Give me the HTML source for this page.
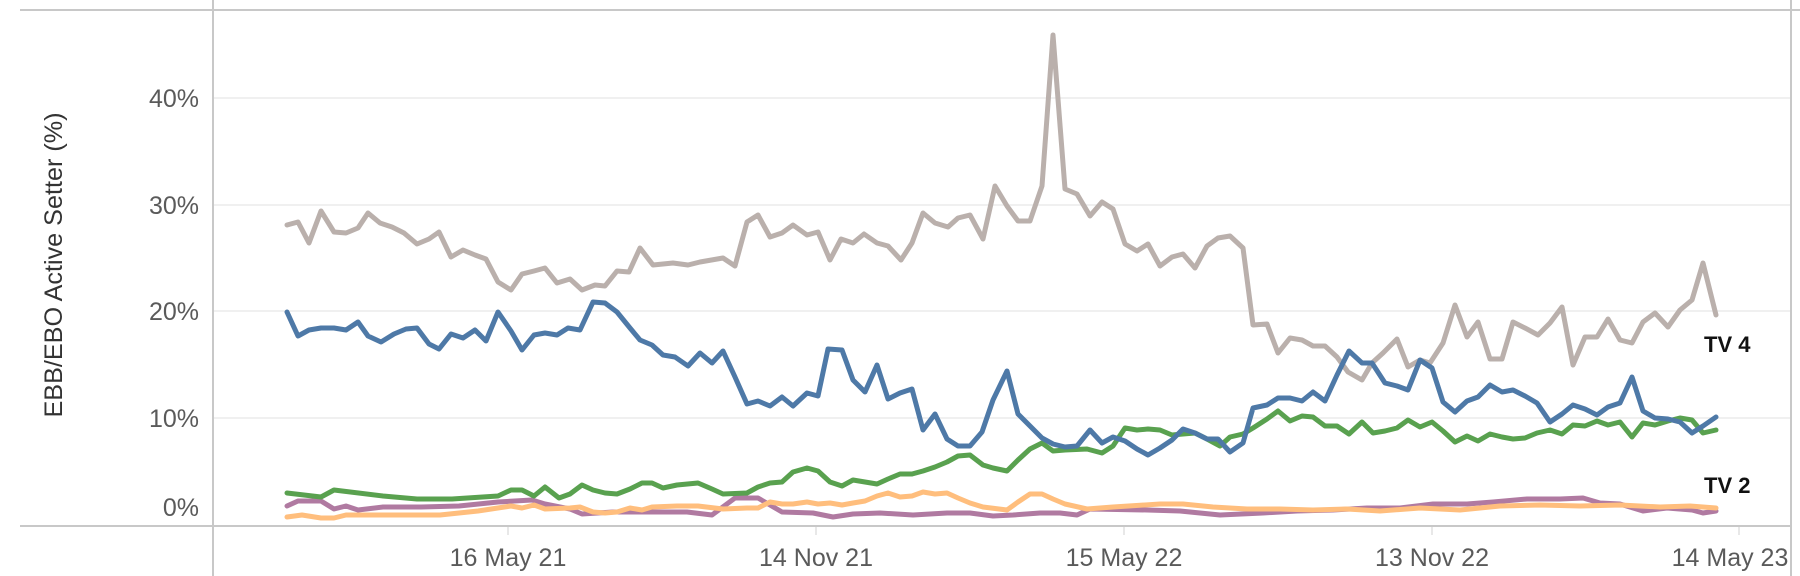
<!DOCTYPE html>
<html><head><meta charset="utf-8"><style>
html,body{margin:0;padding:0;background:#fff;width:1800px;height:576px;overflow:hidden}
svg{display:block}
text{font-family:"Liberation Sans",sans-serif}
</style></head><body>
<svg width="1800" height="576" viewBox="0 0 1800 576" xmlns="http://www.w3.org/2000/svg">
<g stroke="#ececec" stroke-width="1.5">
<line x1="213" y1="98" x2="1791" y2="98"/>
<line x1="213" y1="205" x2="1791" y2="205"/>
<line x1="213" y1="311" x2="1791" y2="311"/>
<line x1="213" y1="418" x2="1791" y2="418"/>
</g>
<g stroke="#c8c8c8" stroke-width="2">
<line x1="20" y1="10" x2="1800" y2="10"/>
<line x1="20" y1="526" x2="1791" y2="526"/>
<line x1="213" y1="0" x2="213" y2="576"/>
<line x1="1791" y1="0" x2="1791" y2="576"/>
</g>
<g stroke="#e0e0e0" stroke-width="1.5">
<line x1="508" y1="527" x2="508" y2="535"/>
<line x1="816" y1="527" x2="816" y2="535"/>
<line x1="1124" y1="527" x2="1124" y2="535"/>
<line x1="1432" y1="527" x2="1432" y2="535"/>
<line x1="1739" y1="527" x2="1739" y2="535"/>
</g>
<g fill="#5a5a5a" font-size="25" text-anchor="end">
<text x="199" y="107">40%</text>
<text x="199" y="214">30%</text>
<text x="199" y="320">20%</text>
<text x="199" y="427">10%</text>
<text x="199" y="516">0%</text>
</g>
<g fill="#5a5a5a" font-size="25" text-anchor="middle">
<text x="508" y="566">16 May 21</text>
<text x="816" y="566">14 Nov 21</text>
<text x="1124" y="566">15 May 22</text>
<text x="1432" y="566">13 Nov 22</text>
<text x="1730" y="566">14 May 23</text>
</g>
<text transform="translate(62,265) rotate(-90)" fill="#333" font-size="25" text-anchor="middle" textLength="305" lengthAdjust="spacingAndGlyphs">EBB/EBO Active Setter (%)</text>
<g fill="none" stroke-width="5" stroke-linejoin="round" stroke-linecap="round">
<polyline stroke="#b07aa1" points="287,506 298,501 321,501 334,509 346,506 358,510 383,507 421,507 459,506 498,502 532,500 545,504 570,509 582,514 613,512 647,512 687,512 712,515 735,498 758,498 770,505 782,512 813,513 833,517 853,514 880,513 913,515 947,513 970,513 993,516 1013,515 1040,513 1060,513 1077,515 1090,509 1147,510 1180,511 1220,515 1263,513 1297,511 1333,510 1367,508 1400,508 1433,504 1467,504 1493,502 1527,499 1560,499 1583,498 1600,503 1620,504 1643,511 1667,508 1692,510 1703,513 1716,511"/>
<polyline stroke="#ffbe7d" points="287,517 302,515 321,518 334,518 346,515 383,515 440,515 478,511 511,506 522,508 534,505 545,509 570,508 580,507 593,512 605,513 617,512 630,508 642,510 652,507 677,506 698,506 723,509 747,508 758,508 770,502 782,504 793,504 807,502 818,504 830,503 842,505 853,503 865,501 877,496 888,493 900,497 912,496 923,492 935,494 947,493 958,498 970,503 983,507 1007,510 1018,502 1030,494 1042,494 1053,499 1065,504 1087,509 1113,507 1160,504 1183,504 1213,507 1247,509 1280,509 1313,510 1347,509 1380,511 1420,508 1460,510 1500,506 1540,505 1580,506 1620,505 1660,507 1690,506 1716,508"/>
<polyline stroke="#bab0ac" points="287,225 298,222 309,243 321,211 334,232 346,233 358,228 368,213 380,223 392,227 404,233 417,244 429,239 439,232 451,257 463,250 475,255 486,259 498,282 511,290 522,274 534,271 545,268 557,283 570,279 582,290 595,285 605,286 617,271 629,272 640,248 653,265 673,263 688,265 700,262 723,258 735,266 747,222 758,215 770,237 782,233 793,225 807,235 818,232 830,260 841,239 853,243 864,234 877,243 888,246 901,260 912,243 923,213 935,223 948,227 958,218 970,215 983,239 995,186 1007,206 1018,221 1030,221 1042,186 1053,35 1065,189 1077,194 1090,216 1102,202 1113,209 1125,244 1137,251 1148,244 1160,266 1172,257 1183,254 1195,268 1207,246 1218,238 1230,236 1243,248 1253,325 1267,324 1278,353 1290,338 1302,340 1313,346 1325,346 1337,357 1348,372 1362,380 1372,363 1383,353 1397,339 1408,367 1420,360 1430,363 1443,343 1455,305 1467,337 1478,322 1490,359 1502,359 1513,322 1525,328 1538,335 1550,323 1562,307 1573,365 1585,337 1597,337 1608,319 1620,340 1632,343 1643,322 1655,313 1668,327 1680,310 1692,300 1703,263 1716,315"/>
<polyline stroke="#59a14f" points="287,493 321,497 334,490 383,496 417,499 452,499 498,496 511,490 522,490 534,496 545,487 559,498 570,494 582,485 593,490 605,493 617,494 630,489 642,483 652,483 663,488 677,485 698,483 712,489 723,494 747,493 758,487 770,483 782,482 793,472 807,468 818,471 830,482 842,486 853,480 865,482 877,484 888,479 900,474 912,474 923,471 935,467 947,462 958,456 970,455 983,465 993,468 1007,471 1018,460 1030,449 1042,443 1053,451 1065,450 1087,449 1102,453 1113,446 1125,428 1137,430 1148,429 1160,430 1172,435 1183,434 1195,433 1207,439 1220,446 1230,437 1243,434 1253,428 1267,419 1278,411 1290,421 1302,416 1313,417 1325,426 1337,426 1349,434 1362,422 1373,433 1385,431 1397,428 1408,420 1420,427 1432,422 1443,431 1455,442 1467,436 1478,441 1490,434 1502,437 1513,439 1525,438 1537,433 1550,430 1562,434 1573,425 1585,426 1597,421 1608,425 1620,422 1632,437 1643,423 1655,425 1668,421 1680,418 1692,420 1703,433 1716,430"/>
<polyline stroke="#4e79a7" points="287,312 298,336 309,330 321,328 334,328 346,330 358,322 368,336 381,342 394,334 406,329 417,328 429,344 439,349 451,334 463,338 475,330 486,341 498,312 511,331 522,350 534,335 545,333 557,335 568,328 580,330 593,302 605,303 617,312 630,328 640,340 652,345 663,355 675,357 688,366 700,353 712,363 723,351 735,377 747,404 758,401 770,406 782,397 793,406 807,393 818,396 828,349 842,350 853,380 865,392 877,365 888,399 900,393 912,389 923,430 935,414 947,439 958,446 970,446 982,432 993,400 1007,371 1018,414 1030,426 1042,438 1053,444 1065,447 1077,446 1090,430 1102,443 1113,437 1125,441 1137,449 1148,455 1160,448 1172,440 1183,429 1195,433 1207,439 1218,439 1230,452 1243,443 1253,408 1267,405 1278,398 1290,398 1302,401 1313,392 1325,401 1337,375 1349,351 1362,363 1372,363 1385,383 1397,386 1408,390 1420,360 1432,368 1443,402 1455,412 1467,401 1478,397 1490,385 1502,392 1513,390 1525,396 1537,403 1550,422 1562,414 1573,405 1585,409 1597,415 1608,407 1620,403 1632,377 1643,411 1655,418 1668,419 1680,422 1692,433 1703,426 1716,417"/>
</g>
<g fill="#111" font-size="22" font-weight="bold">
<text x="1704" y="352">TV 4</text>
<text x="1704" y="493">TV 2</text>
</g>
</svg>
</body></html>
